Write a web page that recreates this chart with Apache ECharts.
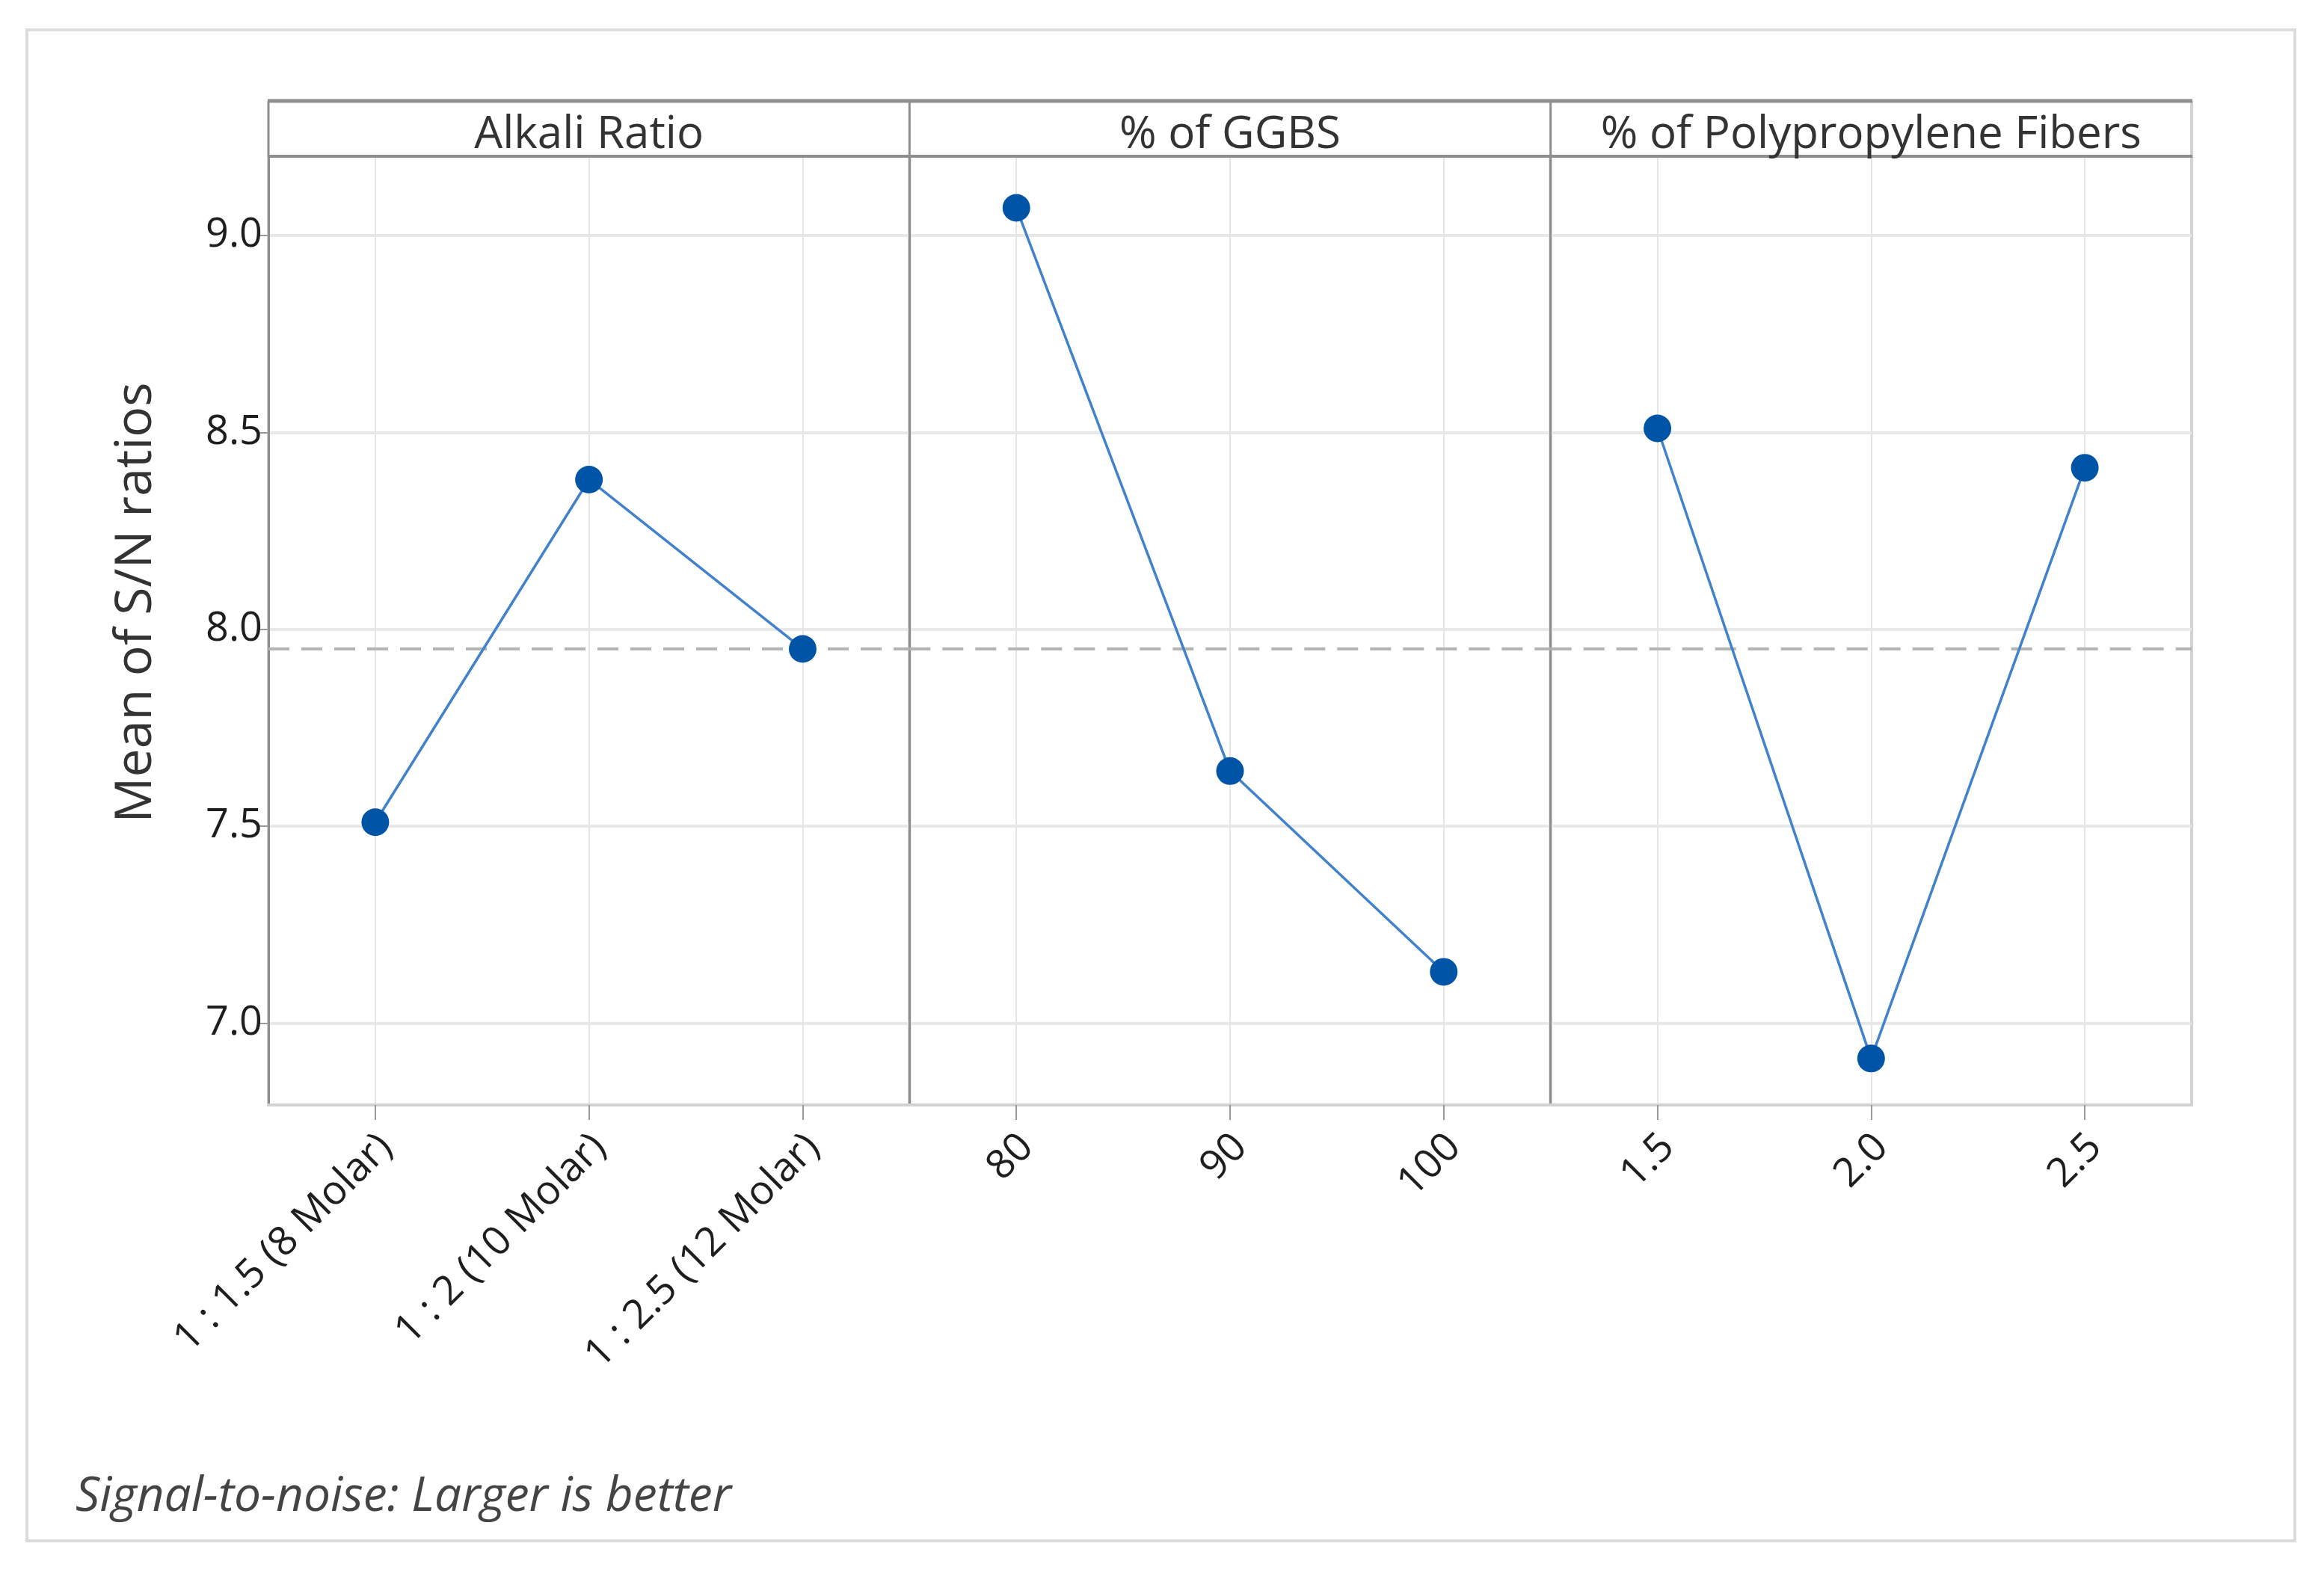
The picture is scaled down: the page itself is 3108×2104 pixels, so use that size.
<!DOCTYPE html>
<html><head><meta charset="utf-8">
<script src="https://cdn.jsdelivr.net/npm/echarts@6/dist/echarts.min.js"></script>
<style>html,body{margin:0;padding:0;background:#fff}#c{width:3108px;height:2104px}</style>
</head><body><div id="c"></div>
<script>
// ---- data ----
const factorNames = ['Alkali Ratio', '% of GGBS', '% of Polypropylene Fibers'];
const alkaliLevels = ['1 : 1.5 (8 Molar)', '1 : 2 (10 Molar)', '1 : 2.5 (12 Molar)'];
const ggbsLevels = ['80', '90', '100'];
const fiberLevels = ['1.5', '2.0', '2.5'];
const alkaliSN = [7.51, 8.38, 7.95];
const ggbsSN = [9.07, 7.64, 7.13];
const fiberSN = [8.51, 6.91, 8.41];
const overallMeanSN = 7.946;
const yTicks = [7.0, 7.5, 8.0, 8.5, 9.0];
const yMin = 6.792, yMax = 9.201;
const yAxisTitle = 'Mean of S/N ratios';
const footNote = 'Signal-to-noise: Larger is better';

// ---- layout ----
const FONT = '"Open Sans", "Noto Sans", sans-serif';
const PLOT_L = 359, PLOT_R = 2931, TOP = 209, BOTTOM = 1478, STRIP_TOP = 135;
const PW = (PLOT_R - PLOT_L) / 3;
const DARK = '#8e8e8e', LIGHT = '#d2d2d2';

const levels = [alkaliLevels, ggbsLevels, fiberLevels];
const values = [alkaliSN, ggbsSN, fiberSN];

const grids = [], xAxes = [], yAxes = [], series = [];
for (let i = 0; i < 3; i++) {
  grids.push({
    left: PLOT_L + i * PW, top: TOP, width: PW, height: BOTTOM - TOP,
    show: true, borderColor: LIGHT, borderWidth: 4, backgroundColor: 'transparent'
  });
  xAxes.push({
    type: 'category', gridIndex: i, data: levels[i], boundaryGap: true,
    axisLine: { show: true, lineStyle: { color: LIGHT, width: 4 } },
    axisTick: { show: true, alignWithLabel: true, length: 20, lineStyle: { color: '#9a9a9a', width: 2 } },
    axisLabel: { rotate: 45, fontSize: 54, fontFamily: FONT, color: '#1e1e1e', margin: 34, interval: 0,
      verticalAlign: 'top', lineHeight: 40 },
    splitLine: { show: true, alignWithLabel: true, lineStyle: { color: '#e6e6e6', width: 2 } }
  });
  yAxes.push({
    type: 'value', gridIndex: i, min: yMin, max: yMax,
    axisLine: { show: true, lineStyle: { color: DARK, width: 3 } },
    axisTick: { show: i === 0, length: 12, customValues: yTicks, lineStyle: { color: '#9a9a9a', width: 2 } },
    axisLabel: {
      show: i === 0, customValues: yTicks, fontSize: 54, fontFamily: FONT, color: '#1e1e1e', margin: 8,
      padding: [14, 0, 0, 0],
      formatter: v => Number(v).toFixed(1)
    },
    splitLine: { show: true, lineStyle: { color: '#e8e8e8', width: 4 } }
  });
  series.push({
    type: 'line', xAxisIndex: i, yAxisIndex: i, data: values[i],
    symbol: 'circle', symbolSize: 37,
    itemStyle: { color: '#0054a6' },
    lineStyle: { color: '#4282cc', width: 3.5 },
    z: 5,
    markLine: {
      silent: true, symbol: ['none', 'none'], label: { show: false },
      lineStyle: { color: '#b4b4b4', width: 4, type: [28, 16] },
      data: [{ yAxis: overallMeanSN }],
      z: 1
    }
  });
}

const graphics = [
  { type: 'rect', shape: { x: 36, y: 40, width: 3033, height: 2021 },
    style: { fill: 'none', stroke: '#dcdcdc', lineWidth: 4 }, z: 0 },
  // strip frame
  { type: 'line', shape: { x1: PLOT_L - 1, y1: STRIP_TOP, x2: PLOT_R + 1, y2: STRIP_TOP }, style: { stroke: DARK, lineWidth: 5 }, z: 10 },
  { type: 'line', shape: { x1: PLOT_L - 1, y1: TOP, x2: PLOT_R + 1, y2: TOP }, style: { stroke: DARK, lineWidth: 4 }, z: 10 },
  { type: 'line', shape: { x1: PLOT_R, y1: STRIP_TOP, x2: PLOT_R, y2: TOP }, style: { stroke: LIGHT, lineWidth: 4 }, z: 9 },
  // y title
  { type: 'text', x: 183, y: 806, rotation: Math.PI / 2,
    style: { text: yAxisTitle, font: '68px ' + FONT, fill: '#333', textAlign: 'center', textVerticalAlign: 'middle' }, z: 10 },
  // footnote
  { type: 'text', x: 101, y: 2003,
    style: { text: footNote, font: 'italic 64px ' + FONT, fill: '#444', textAlign: 'left', textVerticalAlign: 'middle' }, z: 10 }
];
for (let i = 0; i < 3; i++) {
  graphics.push({ type: 'line', shape: { x1: PLOT_L + i * PW, y1: STRIP_TOP, x2: PLOT_L + i * PW, y2: TOP }, style: { stroke: DARK, lineWidth: 3 }, z: 10 });
  graphics.push({ type: 'text', x: PLOT_L + (i + 0.5) * PW, y: 181,
    style: { text: factorNames[i], font: '60px ' + FONT, fill: '#333', textAlign: 'center', textVerticalAlign: 'middle' }, z: 10 });
}

const chart = echarts.init(document.getElementById('c'), null, { renderer: 'canvas' });
chart.setOption({
  backgroundColor: '#fff',
  animation: false,
  grid: grids, xAxis: xAxes, yAxis: yAxes, series: series,
  graphic: { elements: graphics }
});
</script></body></html>
